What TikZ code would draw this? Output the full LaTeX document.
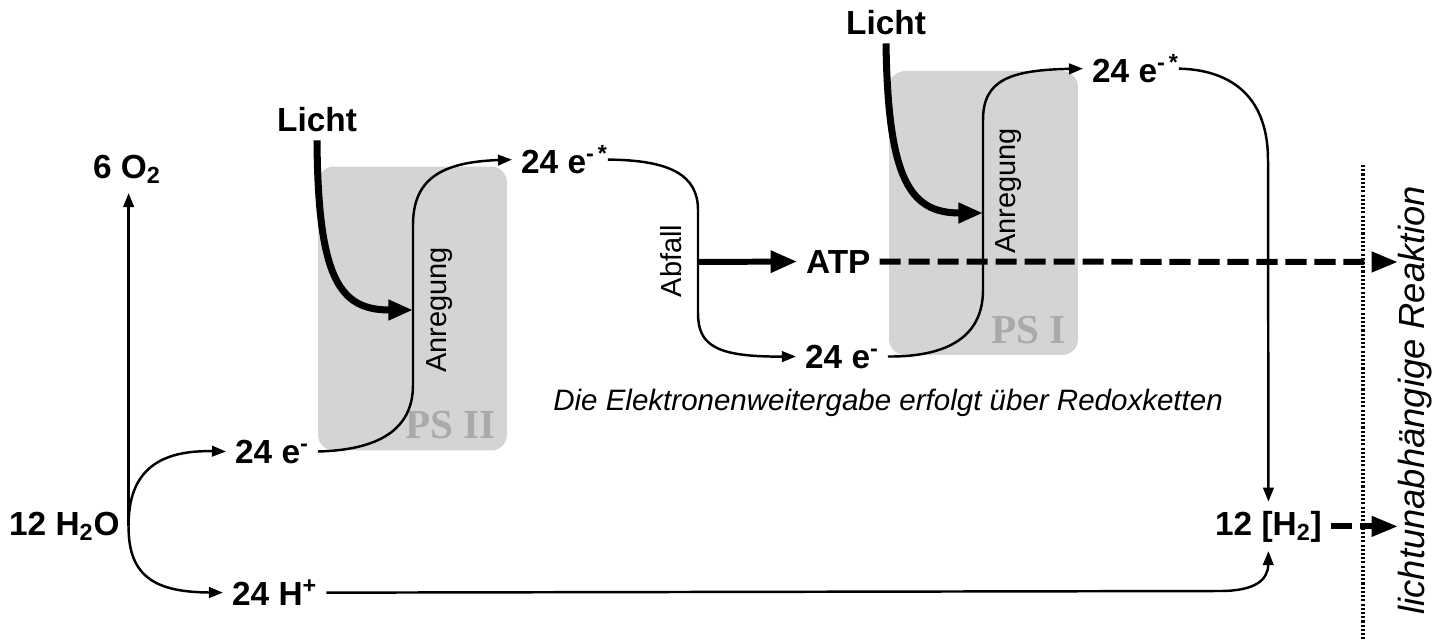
\documentclass[tikz,border=0pt]{standalone}
\usepackage{fontspec}
\setmainfont{Liberation Sans}
\newfontfamily\psfont{Liberation Serif}
\usetikzlibrary{arrows.meta}
\usetikzlibrary{calc}
\usetikzlibrary{positioning}
\definecolor{psgray}{RGB}{212,212,212}
\definecolor{pstext}{RGB}{170,170,170}
\tikzset{
    species/.style={inner sep=5pt, anchor=base west, font=\fontsize{19}{22}\selectfont\bfseries}
}

\begin{document}
\begin{tikzpicture}[x=0.02cm, y=-0.02cm,
        psbox/.style={rectangle, fill=psgray, rounded corners=9pt, minimum width=3.78cm, minimum height=5.68cm},
        pslabel/.style={anchor=base east, inner sep=0pt, text=pstext, font=\fontsize{23.5}{26}\selectfont\psfont\bfseries},
        steplabel/.style={rotate=90, inner sep=0pt, font=\fontsize{16.5}{19}\selectfont},
        note/.style={anchor=base west, inner sep=0pt, font=\fontsize{16.8}{20}\selectfont\itshape},
        flow/.style={line width=1.4pt, -{Triangle[length=8pt, width=6pt]}},
        lightarrow/.style={line width=4pt, -{Triangle[length=14pt, width=11pt]}},
        gainarrow/.style={line width=3.4pt, -{Triangle[length=15pt, width=12pt]}},
        exportarrow/.style={line width=3.4pt, dash pattern=on 12pt off 4.5pt, -{Triangle[length=15pt, width=11pt]}},
        sepline/.style={line width=2.2pt, dash pattern=on 1.2pt off 1.2pt},
    ]
    \useasboundingbox (0,0) rectangle (1453,639);

    \node[psbox]     (PSII)    at (412.5,308.5) {};
    \node[psbox]     (PSI)     at (983.5,213)   {};
    \node[pslabel]   (PSIIt)   at ([shift={(-11,-12)}]PSII.south east) {PS II};
    \node[pslabel]   (PSIt)    at ([shift={(-12,-12)}]PSI.south east)  {PS I};

    \node[species]   (H2O)     at (0,535)    {12 H\textsubscript{2}O};
    \node[species]   (O2)      at (84,178)   {6 O\textsubscript{2}};
    \node[species]   (EA)      at (226,463)  {24 e\textsuperscript{-}};
    \node[species]   (Hp)      at (223,605)  {24 H\textsuperscript{+}};
    \node[species]   (LichtA)  at (268,131)  {Licht};
    \node[species]   (EAs)     at (512,173)  {24 e\textsuperscript{-\,\rlap{*}}};
    \node[species]   (ATP)     at (797,273)  {ATP};
    \node[species]   (EB)      at (796,368)  {24 e\textsuperscript{-}};
    \node[species]   (LichtB)  at (837,34)   {Licht};
    \node[species]   (EBs)     at (1083,82)  {24 e\textsuperscript{-\,\rlap{*}}};
    \node[species]   (H2)      at (1206,535) {12 [H\textsubscript{2}]};

    \node[steplabel] (ExcII)   at (440,310)  {Anregung};
    \node[steplabel] (ExcI)    at (1009,191) {Anregung};
    \node[steplabel] (Drop)    at (671,261)  {Abfall};
    \node[note]      (Redox)   at (553,410)  {Die Elektronenweitergabe erfolgt über Redoxketten};
    \node[steplabel, font=\fontsize{20.7}{24}\selectfont\itshape] (Dark) at (1415,400) {lichtunabhängige Reaktion};

    \coordinate (hitII) at (413,310);
    \coordinate (hitI)  at (983,213);
    \coordinate (split) at (698,262);
    \coordinate (outA)  at (1398,262);
    \coordinate (sepT)  at (1363,165);
    \coordinate (sepB)  at (1363,639);

    \draw[exportarrow] (ATP.east) -- (outA);
    \draw[exportarrow] (H2.east)  -- (H2.east -| outA);

    \draw[flow] (H2O.east) -- (H2O.east |- O2.south);
    \draw[flow] (H2O.east) .. controls (128,470) and (160,450) .. (EA.west);
    \draw[flow] (H2O.east) .. controls (128,580) and (160,592) .. (Hp.west);
    \draw[flow] (EA.east)  .. controls (378,450) and (413,430) .. (413,385) -- (413,225) .. controls (413,180) and (440,162) .. (EAs.west);
    \draw[flow] (EAs.east) .. controls (670,160) and (698,175) .. (698,210) -- (698,313) .. controls (698,345) and (715,357) .. (EB.west);
    \draw[flow] (EB.east)  .. controls (950,357) and (983,335) .. (983,290) -- (983,120) .. controls (983,80) and (1010,70) .. (EBs.west);
    \draw[flow] (EBs.east) .. controls (1235,70) and (1268,100) .. (1268,160) -- (H2.north);
    \draw[flow] (Hp.east)  -- (1220,591) .. controls (1255,591) and (1268,580) .. (H2.south);

    \draw[gainarrow]  (split) -- (ATP.west);
    \draw[lightarrow] (LichtA.south) .. controls (318,280) and (340,310) .. (hitII);
    \draw[lightarrow] (LichtB.south) .. controls (888,180) and (910,213) .. (hitI);

    \draw[sepline] (sepT) -- (sepB);

\end{tikzpicture}
\end{document}
